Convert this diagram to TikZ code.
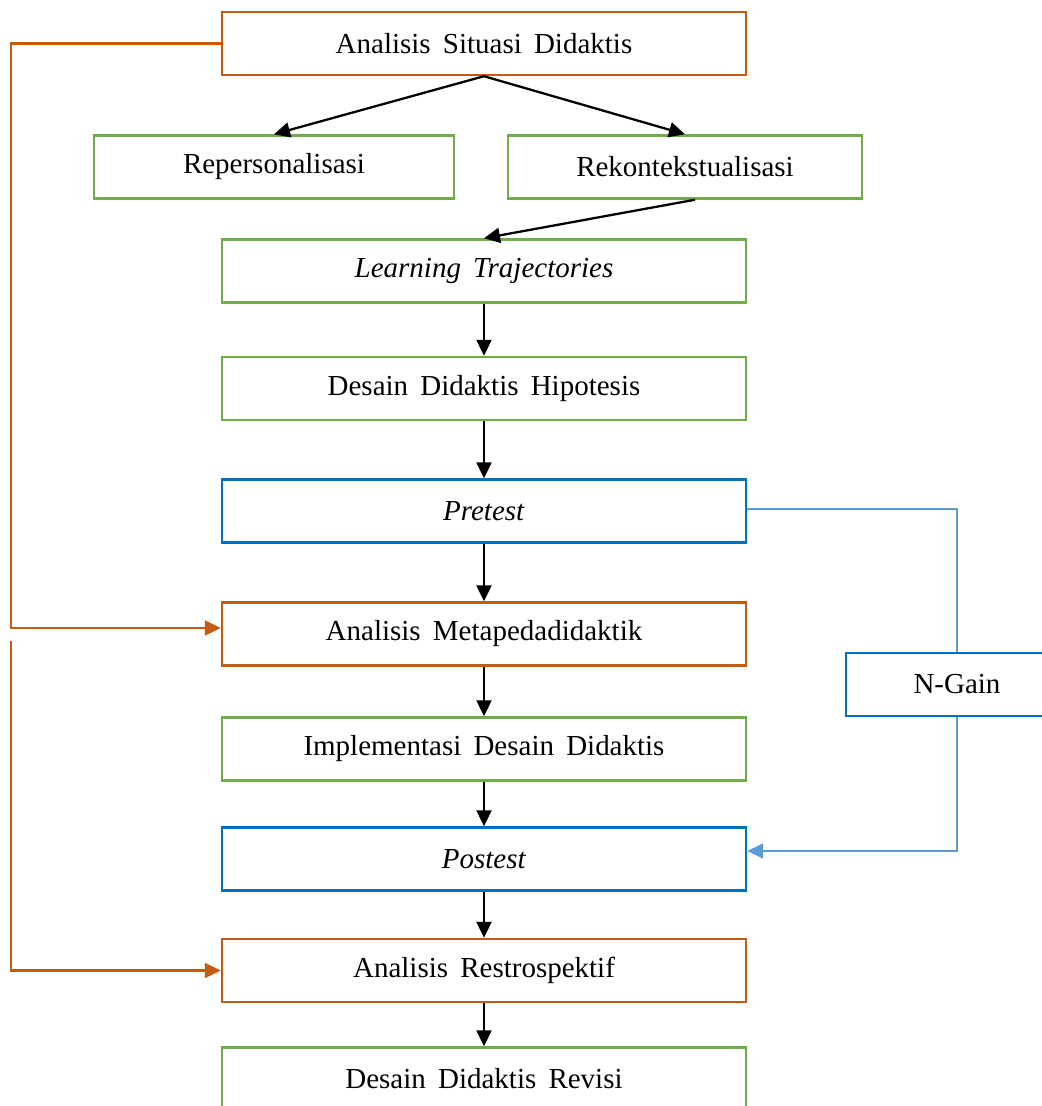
\documentclass[tikz,border=0pt]{standalone}
\usepackage{fontspec}
\setmainfont{Liberation Serif}
\usetikzlibrary{positioning,arrows.meta}

\definecolor{anaorange}{HTML}{C55A11}
\definecolor{desgreen}{HTML}{70AD47}
\definecolor{tesblue}{HTML}{0070C0}
\definecolor{gainblue}{HTML}{5B9BD5}

\newcommand\stagefont{\fontsize{16.5}{19}\selectfont\spaceskip 0.42em plus 0.1em\relax}

\begin{document}
\begin{tikzpicture}[
  >={Triangle[length=0.32cm,width=0.3cm]},
  node distance=2.4cm,
  on grid,
  every node/.style={font=\stagefont},
  stage/.style={draw, line width=1.4pt, minimum width=10.48cm, minimum height=1.26cm, inner sep=0pt},
  ana/.style={stage, draw=anaorange},
  des/.style={stage, draw=desgreen},
  tes/.style={stage, draw=tesblue},
  flow/.style={->, line width=1.3pt},
  loopback/.style={->, draw=anaorange, line width=1.3pt},
  gain/.style={draw=gainblue, line width=1.1pt}
]
  \useasboundingbox (-9.68,0.87) rectangle (11.14,-21.25);

  % main stack
  \node[ana] (asd) at (0,0) {Analisis Situasi Didaktis};
  \node[des, minimum width=7.2cm, below left=2.47cm and 4.2cm of asd] (rep) {Repersonalisasi};
  \node[des, minimum width=7.08cm, below right=2.47cm and 4.02cm of asd] (rek) {Rekontekstualisasi};
  \node[des, below=4.55cm of asd] (lt) {\textit{Learning Trajectories}};
  \node[des, below=2.35cm of lt] (ddh) {Desain Didaktis Hipotesis};
  \node[tes, below=2.45cm of ddh] (pre) {\textit{Pretest}};
  \node[ana, below=2.46cm of pre] (amp) {Analisis Metapedadidaktik};
  \node[des, below=2.3cm of amp] (impl) {Implementasi Desain Didaktis};
  \node[tes, below=2.2cm of impl] (post) {\textit{Postest}};
  \node[ana, below=2.23cm of post] (ar) {Analisis Restrospektif};
  \node[des, below=2.17cm of ar] (ddr) {Desain Didaktis Revisi};
  \node[tes, minimum width=4.44cm, below right=1.01cm and 9.46cm of amp] (ngain) {N-Gain};

  \coordinate[left=9.46cm of asd] (backtop);
  \coordinate[left=9.46cm of amp, yshift=-0.14cm] (backlow);

  \path[flow]
    (asd.south) edge (rep.north)
                edge (rek.north)
    ([xshift=0.2cm]rek.south) edge (lt.north)
    (lt) edge (ddh)
    (ddh) edge (pre)
    (pre) edge (amp)
    (amp) edge (impl)
    (impl) edge (post)
    (post) edge (ar)
    (ar) edge (ddr);

  % loops on the left
  \draw[loopback] (asd.west) -- (backtop) |- ([yshift=0.12cm]amp.west);
  \draw[loopback] (backlow) |- (ar.west);

  % N-Gain on the right
  \draw[gain] ([yshift=0.04cm]pre.east) -| (ngain.north);
  \draw[gain, ->] (ngain.south) |- ([yshift=0.16cm]post.east);
\end{tikzpicture}
\end{document}
